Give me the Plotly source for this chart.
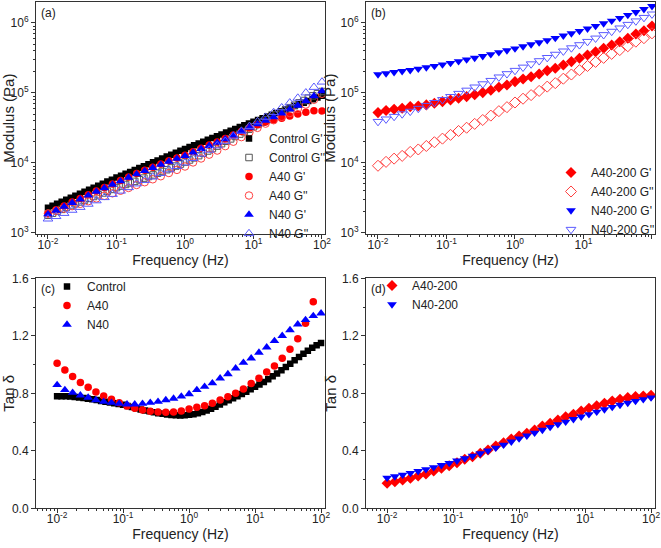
import plotly.graph_objects as go

# ---------------- data ----------------
freq = [0.01, 0.01311, 0.01719, 0.02254, 0.02955, 0.03875, 0.0508, 0.06661, 0.08733,
        0.1145, 0.1501, 0.1968, 0.2581, 0.3384, 0.4437, 0.5817, 0.7627, 1.0,
        1.311, 1.719, 2.254, 2.955, 3.875, 5.08, 6.661, 8.733, 11.45, 15.01,
        19.68, 25.81, 33.84, 44.37, 58.17, 76.27, 100.0]

freq_control = [0.01, 0.01166, 0.01359, 0.01585, 0.01848, 0.02154, 0.02512, 0.02929, 0.03415, 0.03981,
                0.04642, 0.05412, 0.0631, 0.07356, 0.08577,
                0.1, 0.1166, 0.1359, 0.1585, 0.1848, 0.2154, 0.2512, 0.2929, 0.3415, 0.3981,
                0.4642, 0.5412, 0.631, 0.7356, 0.8577,
                1.0, 1.166, 1.359, 1.585, 1.848, 2.154, 2.512, 2.929, 3.415, 3.981,
                4.642, 5.412, 6.31, 7.356, 8.577,
                10.0, 11.66, 13.59, 15.85, 18.48, 21.54, 25.12, 29.29, 34.15, 39.81,
                46.42, 54.12, 63.1, 73.56, 85.77, 100.0]

control_gp = [2290, 2450, 2612, 2793, 2985, 3184, 3404, 3639, 3882, 4150, 4436, 4732, 5058, 5408, 5768,
              6166, 6561, 6998, 7447, 7925, 8453, 8995, 9572, 10186, 10864, 11561, 12331, 13122, 13964, 14894,
              15849, 16827, 17865, 18967, 20137, 21380, 22699, 24099, 25586, 27164, 28840, 30620, 32510, 34514, 36644,
              38905, 41210, 43551, 46132, 48865, 51642, 54702, 57943, 61235, 64863, 68707, 72611, 76913, 81470, 86099,
              91201]
control_gpp = [1786, 1911, 2035, 2170, 2313, 2455, 2611, 2773, 2943, 3125, 3314, 3506, 3723, 3948, 4182,
               4440, 4671, 4927, 5183, 5452, 5757, 6072, 6394, 6743, 7138, 7549, 8003, 8490, 9021, 9636,
               10302, 11022, 11809, 12708, 13713, 14816, 16048, 17399, 18857, 20400, 22063, 23853, 25845, 27991, 30341,
               32875, 35523, 38281, 41427, 44858, 48440, 52514, 56958, 61602, 66809, 72348, 78057, 84297, 90921, 97722,
               104881]
control_tan = [0.780, 0.780, 0.779, 0.777, 0.775, 0.771, 0.767, 0.762, 0.758, 0.753, 0.747, 0.741, 0.736, 0.730, 0.725,
               0.720, 0.712, 0.704, 0.696, 0.688, 0.681, 0.675, 0.668, 0.662, 0.657, 0.653, 0.649, 0.647, 0.646, 0.647,
               0.650, 0.655, 0.661, 0.670, 0.681, 0.693, 0.707, 0.722, 0.737, 0.751, 0.765, 0.779, 0.795, 0.811, 0.828,
               0.845, 0.862, 0.879, 0.898, 0.918, 0.938, 0.960, 0.983, 1.006, 1.030, 1.053, 1.075, 1.096, 1.116, 1.135,
               1.150]

a40_gp = [1884, 2138, 2427, 2754, 3090, 3508, 3981, 4467, 5012, 5623, 6310, 7079, 7852, 8710, 9661, 10715,
          11749, 12882, 14454, 16218, 17989, 19953, 22387, 25119, 28184, 31623, 35075, 38459, 41210, 43652,
          46774, 50119, 53088, 55590, 55200]
a40_gpp = [1901, 2056, 2223, 2413, 2602, 2838, 3110, 3386, 3684, 4004, 4391, 4843, 5301, 5837, 6453, 7180,
           7955, 8889, 10162, 11579, 13132, 15029, 17378, 20094, 23391, 27454, 31710, 36467, 40789, 45529,
           51736, 59143, 68323, 79890, 97275]
a40_tan = [1.009, 0.962, 0.916, 0.876, 0.842, 0.809, 0.781, 0.758, 0.735, 0.712, 0.696, 0.684, 0.675, 0.670,
           0.668, 0.670, 0.677, 0.690, 0.703, 0.714, 0.730, 0.753, 0.776, 0.800, 0.830, 0.868, 0.904, 0.948,
           0.990, 1.043, 1.106, 1.180, 1.287, 1.437, 1.750]

n40_gp = [1849, 2089, 2371, 2692, 3020, 3428, 3890, 4365, 4898, 5495, 6166, 6918, 7674, 8511, 9441, 10471,
          11482, 12589, 14125, 15849, 17579, 19498, 21878, 24831, 28184, 31989, 35892, 40272, 45186, 51286,
          58210, 66069, 76736, 90157, 105925]
n40_gpp = [1587, 1720, 1907, 2116, 2326, 2581, 2886, 3209, 3566, 3973, 4458, 5037, 5641, 6316, 7111, 7990,
           8933, 10009, 11627, 13412, 15290, 17630, 20430, 24187, 28547, 33370, 38881, 45108, 52602, 61531,
           72194, 84551, 100531, 120645, 143647]
n40_tan = [0.858, 0.823, 0.804, 0.786, 0.770, 0.753, 0.742, 0.735, 0.728, 0.723, 0.723, 0.728, 0.735, 0.742,
           0.753, 0.763, 0.778, 0.795, 0.823, 0.846, 0.870, 0.904, 0.934, 0.974, 1.013, 1.043, 1.083, 1.120,
           1.164, 1.200, 1.240, 1.280, 1.310, 1.338, 1.356]

a40_200_gp = [52400, 56000, 58500, 60400, 63800, 65200, 67500, 71100, 75200, 79400, 83900, 88700, 94400,
              101200, 109600, 120500, 130000, 145200, 158500, 171000, 186600, 208400, 224900, 251200, 280500,
              312600, 349100, 389000, 434500, 485300, 540800, 603900, 696600, 776200, 905700]
a40_200_gpp = [9110, 10360, 11520, 12620, 14360, 15570, 17470, 19770, 22250, 25180, 28630, 31850, 36150, 41070,
               47480, 54950, 62660, 73050, 82750, 93200, 106960, 123200, 138100, 160000, 183500, 211600, 243000,
               277800, 317200, 362100, 410000, 465100, 541000, 606200, 711900]
a40_200_tan = [0.174, 0.185, 0.197, 0.209, 0.225, 0.239, 0.259, 0.278, 0.296, 0.317, 0.341, 0.359, 0.383,
               0.406, 0.433, 0.456, 0.482, 0.503, 0.522, 0.545, 0.573, 0.591, 0.614, 0.637, 0.654, 0.677, 0.696,
               0.714, 0.730, 0.746, 0.758, 0.770, 0.777, 0.781, 0.786]

n40_200_gp = [184000, 190500, 197700, 204600, 211800, 221300, 231700, 242700, 254100, 267300, 283100, 299900,
              317000, 335700, 357300, 381100, 405500, 431500, 461300, 494300, 528400, 566200, 609500, 657700,
              709600, 765600, 829900, 903600, 986300, 1076000, 1175000, 1297000, 1429000, 1578000, 1738000]
n40_200_gpp = [39000, 42300, 46100, 50100, 54600, 60000, 66100, 72800, 80100, 88500, 98200, 109200, 121100,
               134600, 150400, 168500, 187800, 209300, 233000, 259500, 288000, 319900, 356000, 396000, 440000,
               487600, 542900, 606200, 678600, 757800, 844900, 950900, 1066000, 1196000, 1338000]
n40_200_tan = [0.212, 0.222, 0.233, 0.245, 0.258, 0.271, 0.285, 0.300, 0.315, 0.331, 0.347, 0.364, 0.382,
               0.401, 0.421, 0.442, 0.463, 0.485, 0.505, 0.525, 0.545, 0.565, 0.584, 0.602, 0.620, 0.637, 0.654,
               0.671, 0.688, 0.704, 0.719, 0.733, 0.746, 0.758, 0.770]

freq_tickvals = [0.01, 0.1, 1, 10, 100]
freq_ticktext = ["10<sup>-2</sup>", "10<sup>-1</sup>", "10<sup>0</sup>", "10<sup>1</sup>", "10<sup>2</sup>"]
mod_tickvals = [1e3, 1e4, 1e5, 1e6]
mod_ticktext = ["10<sup>3</sup>", "10<sup>4</sup>", "10<sup>5</sup>", "10<sup>6</sup>"]

# ---------------- styling ----------------
FONT = "Liberation Sans, Arial, sans-serif"
RED = "#ff0000"
BLUE = "#0000ff"
LRED = "#ff4040"
LBLUE = "#5a5aff"
GREY = "#555555"

fig = go.Figure()


def add(x, y, name, xa, ya, legend, symbol, color, size, open_=False, lw=1.0):
    if open_:
        marker = dict(symbol=symbol, size=size, color=color, line=dict(color=color, width=lw))
    else:
        marker = dict(symbol=symbol, size=size, color=color, line=dict(width=0))
    fig.add_trace(go.Scatter(x=x, y=y, name=name, mode="markers", marker=marker,
                             xaxis=xa, yaxis=ya, legend=legend, cliponaxis=True))


# (a)
add(freq_control, control_gp, "Control G'", "x", "y", "legend", "square", "black", 6.5)
add(freq_control, control_gpp, "Control G''", "x", "y", "legend", "square-open", GREY, 6.5, True)
add(freq, a40_gp, "A40 G'", "x", "y", "legend", "circle", RED, 7.5)
add(freq, a40_gpp, "A40 G''", "x", "y", "legend", "circle-open", LRED, 7.5, True)
add(freq, n40_gp, "N40 G'", "x", "y", "legend", "triangle-up", BLUE, 8.5)
add(freq, n40_gpp, "N40 G''", "x", "y", "legend", "triangle-up-open", LBLUE, 8.5, True)
# (b)
add(freq, a40_200_gp, "A40-200 G'", "x2", "y2", "legend2", "diamond", RED, 8.5)
add(freq, a40_200_gpp, "A40-200 G''", "x2", "y2", "legend2", "diamond-open", LRED, 8.5, True)
add(freq, n40_200_gp, "N40-200 G'", "x2", "y2", "legend2", "triangle-down", BLUE, 8.5)
add(freq, n40_200_gpp, "N40-200 G''", "x2", "y2", "legend2", "triangle-down-open", LBLUE, 8.5, True)
# (c)
add(freq_control, control_tan, "Control", "x3", "y3", "legend3", "square", "black", 6.5)
add(freq, a40_tan, "A40", "x3", "y3", "legend3", "circle", RED, 7.5)
add(freq, n40_tan, "N40", "x3", "y3", "legend3", "triangle-up", BLUE, 8.5)
# (d)
add(freq, a40_200_tan, "A40-200", "x4", "y4", "legend4", "diamond", RED, 8.5)
add(freq, n40_200_tan, "N40-200", "x4", "y4", "legend4", "triangle-down", BLUE, 8.5)

W, H = 661, 548
LINE = "#333333"


def xaxis(domain, rng, anchor):
    return dict(domain=domain, anchor=anchor, type="log", range=rng, automargin=True,
                tickvals=freq_tickvals, ticktext=freq_ticktext,
                ticks="outside", ticklen=4, tickwidth=1, tickcolor=LINE,
                ticklabelstandoff=-5,
                minor=dict(ticks="outside", ticklen=2, tickcolor=LINE, dtick="D1", showgrid=False),
                showline=True, linecolor=LINE, linewidth=1, mirror=True,
                showgrid=False, zeroline=False,
                tickfont=dict(size=12, color="#222"),
                title=dict(text="Frequency (Hz)", font=dict(size=14, color="#222"), standoff=0))


def ylog(domain, anchor):
    return dict(domain=domain, anchor=anchor, type="log", range=[2.98, 6.3], automargin=True,
                tickvals=mod_tickvals, ticktext=mod_ticktext,
                ticks="outside", ticklen=4, tickwidth=1, tickcolor=LINE,
                minor=dict(ticks="outside", ticklen=2, tickcolor=LINE, dtick="D1", showgrid=False),
                showline=True, linecolor=LINE, linewidth=1, mirror=True,
                showgrid=False, zeroline=False,
                tickfont=dict(size=12, color="#222"),
                title=dict(text="Modulus (Pa)", font=dict(size=15, color="#222"), standoff=1))


def ylin(domain, anchor):
    return dict(domain=domain, anchor=anchor, type="linear", range=[0, 1.6], automargin=True,
                tickmode="linear", tick0=0, dtick=0.4, tickformat=".1f",
                ticks="outside", ticklen=4, tickwidth=1, tickcolor=LINE,
                minor=dict(ticks="outside", ticklen=2, tickcolor=LINE, dtick=0.2, showgrid=False),
                showline=True, linecolor=LINE, linewidth=1, mirror=True,
                showgrid=False, zeroline=False,
                tickfont=dict(size=12, color="#222"),
                title=dict(text="Tan δ", font=dict(size=15, color="#222"), standoff=1))


xdomL = [36 / W, 325 / W]
xdomR = [366 / W, 655 / W]
ydomT = [1 - 234.3 / H, 1 - 2 / H]
ydomB = [1 - 508.3 / H, 1 - 278.3 / H]

legend_common = dict(bgcolor="rgba(0,0,0,0)", borderwidth=0, font=dict(size=12, color="#222", family=FONT),
                     tracegroupgap=0, itemwidth=30, xanchor="left", yanchor="top")

fig.update_layout(
    width=W, height=H,
    margin=dict(l=0, r=0, t=0, b=0, autoexpand=False),
    paper_bgcolor="white", plot_bgcolor="white",
    font=dict(family=FONT, color="#222"),
    xaxis=xaxis(xdomL, [-2.175, 2.044], "y"),
    yaxis=ylog(ydomT, "x"),
    xaxis2=xaxis(xdomR, [-2.175, 2.044], "y2"),
    yaxis2=ylog(ydomT, "x2"),
    xaxis3=xaxis(xdomL, [-2.32, 2.06], "y3"),
    yaxis3=ylin(ydomB, "x3"),
    xaxis4=xaxis(xdomR, [-2.32, 2.06], "y4"),
    yaxis4=ylin(ydomB, "x4"),
    legend=dict(x=229 / W, y=1 - 124 / H, **legend_common),
    legend2=dict(x=551 / W, y=1 - 158 / H, **legend_common),
    legend3=dict(x=47 / W, y=1 - 272 / H, **legend_common),
    legend4=dict(x=372 / W, y=1 - 271 / H, **legend_common),
    showlegend=True,
)

for txt, px, py in [("(a)", 39, 13), ("(b)", 369, 13), ("(c)", 39, 289), ("(d)", 369, 289)]:
    fig.add_annotation(text=txt, xref="paper", yref="paper", x=px / W, y=1 - py / H,
                       xanchor="left", yanchor="middle", showarrow=False,
                       font=dict(size=12, color="#222", family=FONT))

fig.write_html("out.html",
               config={"displayModeBar": False},
               post_script="document.body.style.margin='0px';document.body.style.padding='0px';")
